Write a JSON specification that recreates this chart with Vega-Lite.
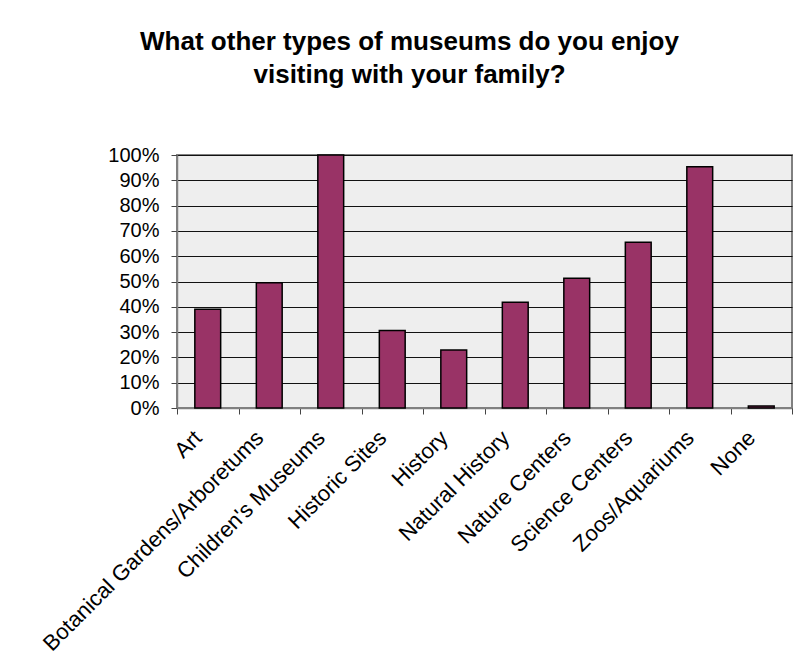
{
  "$schema": "https://vega.github.io/schema/vega-lite/v6.json",
  "width": 615,
  "height": 253,
  "autosize": "none",
  "padding": {"left": 177, "top": 155, "right": 8, "bottom": 247},
  "background": "white",
  "title": {
    "text": ["What other types of museums do you enjoy", "visiting with your family?"],
    "font": "Liberation Sans",
    "fontSize": 26,
    "fontWeight": "bold",
    "lineHeight": 33,
    "color": "black",
    "anchor": "middle",
    "frame": "group",
    "dx": -75,
    "offset": 57
  },
  "data": {
    "values": [
      {"type": "Art", "pct": 0.39},
      {"type": "Botanical Gardens/Arboretums", "pct": 0.495},
      {"type": "Children's Museums", "pct": 1.0},
      {"type": "Historic Sites", "pct": 0.306},
      {"type": "History", "pct": 0.229},
      {"type": "Natural History", "pct": 0.418},
      {"type": "Nature Centers", "pct": 0.513},
      {"type": "Science Centers", "pct": 0.655},
      {"type": "Zoos/Aquariums", "pct": 0.954},
      {"type": "None", "pct": 0.008}
    ]
  },
  "mark": {"type": "bar", "fill": "#993366", "stroke": "black", "strokeWidth": 1.5, "width": {"band": 0.42}},
  "encoding": {
    "x": {
      "field": "type",
      "type": "nominal",
      "sort": null,
      "scale": {"paddingInner": 0, "paddingOuter": 0},
      "axis": {
        "title": null,
        "labelAngle": -45,
        "labelAlign": "right",
        "labelBaseline": "middle",
        "labelFont": "Liberation Sans",
        "labelFontSize": 22,
        "labelColor": "black",
        "labelPadding": 20,
        "labelOffset": -10,
        "labelLimit": 0,
        "tickBand": "extent",
        "tickSize": 6,
        "tickColor": "#444444",
        "domainColor": "#808080",
        "domainWidth": 1.5,
        "grid": false,
        "labelOverlap": false
      }
    },
    "y": {
      "field": "pct",
      "type": "quantitative",
      "scale": {"domain": [0, 1], "nice": false},
      "axis": {
        "title": null,
        "format": ".0%",
        "values": [0, 0.1, 0.2, 0.3, 0.4, 0.5, 0.6, 0.7, 0.8, 0.9, 1.0],
        "labelFont": "Liberation Sans",
        "labelFontSize": 20,
        "labelColor": "black",
        "labelPadding": 12,
        "tickSize": 6,
        "tickColor": "#444444",
        "domainColor": "#808080",
        "domainWidth": 1.5,
        "grid": true,
        "gridColor": "#111111",
        "gridWidth": 1,
        "labelOverlap": false
      }
    }
  },
  "config": {
    "view": {"fill": "#EEEEEE", "stroke": "#808080", "strokeWidth": 2}
  }
}
